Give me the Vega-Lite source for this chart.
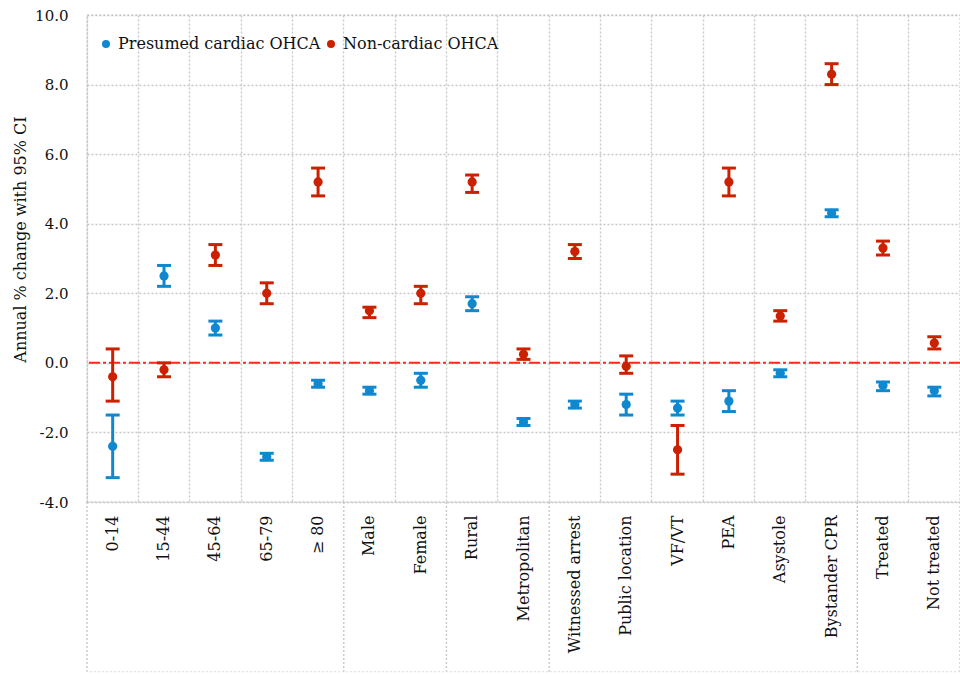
{
  "$schema": "https://vega.github.io/schema/vega-lite/v6.json",
  "autosize": "none",
  "width": 873,
  "height": 487,
  "padding": {"left": 87, "top": 15, "right": 0, "bottom": 172},
  "background": "white",
  "config": {
    "font": "DejaVu Serif",
    "view": {"stroke": "#c8c8c8", "strokeDash": [2, 2], "strokeWidth": 1.4}
  },
  "datasets": {
    "trends": [
      {"series": "Presumed cardiac OHCA", "cat": "0-14", "est": -2.4, "lo": -3.3, "hi": -1.5},
      {"series": "Presumed cardiac OHCA", "cat": "15-44", "est": 2.5, "lo": 2.2, "hi": 2.8},
      {"series": "Presumed cardiac OHCA", "cat": "45-64", "est": 1.0, "lo": 0.8, "hi": 1.2},
      {"series": "Presumed cardiac OHCA", "cat": "65-79", "est": -2.7, "lo": -2.8, "hi": -2.6},
      {"series": "Presumed cardiac OHCA", "cat": "≥ 80", "est": -0.6, "lo": -0.7, "hi": -0.5},
      {"series": "Presumed cardiac OHCA", "cat": "Male", "est": -0.8, "lo": -0.9, "hi": -0.7},
      {"series": "Presumed cardiac OHCA", "cat": "Female", "est": -0.5, "lo": -0.7, "hi": -0.3},
      {"series": "Presumed cardiac OHCA", "cat": "Rural", "est": 1.7, "lo": 1.5, "hi": 1.9},
      {"series": "Presumed cardiac OHCA", "cat": "Metropolitan", "est": -1.7, "lo": -1.8, "hi": -1.6},
      {"series": "Presumed cardiac OHCA", "cat": "Witnessed arrest", "est": -1.2, "lo": -1.3, "hi": -1.1},
      {"series": "Presumed cardiac OHCA", "cat": "Public location", "est": -1.2, "lo": -1.5, "hi": -0.9},
      {"series": "Presumed cardiac OHCA", "cat": "VF/VT", "est": -1.3, "lo": -1.5, "hi": -1.1},
      {"series": "Presumed cardiac OHCA", "cat": "PEA", "est": -1.1, "lo": -1.4, "hi": -0.8},
      {"series": "Presumed cardiac OHCA", "cat": "Asystole", "est": -0.3, "lo": -0.4, "hi": -0.2},
      {"series": "Presumed cardiac OHCA", "cat": "Bystander CPR", "est": 4.3, "lo": 4.2, "hi": 4.4},
      {"series": "Presumed cardiac OHCA", "cat": "Treated", "est": -0.65, "lo": -0.8, "hi": -0.55},
      {"series": "Presumed cardiac OHCA", "cat": "Not treated", "est": -0.8, "lo": -0.95, "hi": -0.7},
      {"series": "Non-cardiac OHCA", "cat": "0-14", "est": -0.4, "lo": -1.1, "hi": 0.4},
      {"series": "Non-cardiac OHCA", "cat": "15-44", "est": -0.2, "lo": -0.4, "hi": 0.0},
      {"series": "Non-cardiac OHCA", "cat": "45-64", "est": 3.1, "lo": 2.8, "hi": 3.4},
      {"series": "Non-cardiac OHCA", "cat": "65-79", "est": 2.0, "lo": 1.7, "hi": 2.3},
      {"series": "Non-cardiac OHCA", "cat": "≥ 80", "est": 5.2, "lo": 4.8, "hi": 5.6},
      {"series": "Non-cardiac OHCA", "cat": "Male", "est": 1.5, "lo": 1.3, "hi": 1.6},
      {"series": "Non-cardiac OHCA", "cat": "Female", "est": 2.0, "lo": 1.7, "hi": 2.2},
      {"series": "Non-cardiac OHCA", "cat": "Rural", "est": 5.2, "lo": 4.9, "hi": 5.4},
      {"series": "Non-cardiac OHCA", "cat": "Metropolitan", "est": 0.25, "lo": 0.1, "hi": 0.4},
      {"series": "Non-cardiac OHCA", "cat": "Witnessed arrest", "est": 3.2, "lo": 3.0, "hi": 3.4},
      {"series": "Non-cardiac OHCA", "cat": "Public location", "est": -0.1, "lo": -0.3, "hi": 0.2},
      {"series": "Non-cardiac OHCA", "cat": "VF/VT", "est": -2.5, "lo": -3.2, "hi": -1.8},
      {"series": "Non-cardiac OHCA", "cat": "PEA", "est": 5.2, "lo": 4.8, "hi": 5.6},
      {"series": "Non-cardiac OHCA", "cat": "Asystole", "est": 1.35, "lo": 1.2, "hi": 1.5},
      {"series": "Non-cardiac OHCA", "cat": "Bystander CPR", "est": 8.3, "lo": 8.0, "hi": 8.6},
      {"series": "Non-cardiac OHCA", "cat": "Treated", "est": 3.3, "lo": 3.1, "hi": 3.5},
      {"series": "Non-cardiac OHCA", "cat": "Not treated", "est": 0.57, "lo": 0.4, "hi": 0.75}
    ],
    "groupStarts": [
      {"cat": "0-14"}, {"cat": "Male"}, {"cat": "Rural"}, {"cat": "Witnessed arrest"}, {"cat": "Treated"}
    ],
    "groupEnds": [
      {"cat": "Not treated"}
    ]
  },
  "layer": [
    {
      "data": {"name": "groupStarts"},
      "mark": {"type": "rule", "color": "#c8c8c8", "strokeDash": [2, 2], "strokeWidth": 1.4},
      "encoding": {
        "x": {
          "field": "cat", "type": "nominal", "bandPosition": 0,
          "scale": {"domain": ["0-14", "15-44", "45-64", "65-79", "≥ 80", "Male", "Female", "Rural", "Metropolitan", "Witnessed arrest", "Public location", "VF/VT", "PEA", "Asystole", "Bystander CPR", "Treated", "Not treated"], "paddingInner": 0, "paddingOuter": 0},
          "axis": {
            "title": null, "labelAngle": -90, "labelFontSize": 16, "labelColor": "#111111",
            "labelPadding": 13, "ticks": false, "domain": false,
            "grid": true, "bandPosition": 0, "gridColor": "#c8c8c8", "gridDash": [2, 2], "gridWidth": 1.4
          }
        },
        "y": {"datum": -4},
        "y2": {"datum": -8.88}
      }
    },
    {
      "data": {"name": "groupEnds"},
      "mark": {"type": "rule", "color": "#c8c8c8", "strokeDash": [2, 2], "strokeWidth": 1.4},
      "encoding": {
        "x": {"field": "cat", "type": "nominal", "bandPosition": 1},
        "y": {"datum": -4},
        "y2": {"datum": -8.88}
      }
    },
    {
      "data": {"values": [{"level": -8.88}]},
      "mark": {"type": "rule", "color": "#dddddd", "strokeDash": [2, 2], "strokeWidth": 1},
      "encoding": {
        "y": {"field": "level", "type": "quantitative"}
      }
    },
    {
      "data": {"values": [{"level": 0}]},
      "mark": {"type": "rule", "color": "#ff2a14", "strokeDash": [11, 3, 3, 3], "strokeWidth": 2},
      "encoding": {
        "y": {"field": "level", "type": "quantitative"}
      }
    },
    {
      "data": {"name": "trends"},
      "mark": {"type": "rule", "strokeWidth": 3, "opacity": 1},
      "encoding": {
        "x": {"field": "cat", "type": "nominal"},
        "y": {"field": "lo", "type": "quantitative"},
        "y2": {"field": "hi"},
        "stroke": {
          "field": "series", "type": "nominal", "legend": null,
          "scale": {"range": ["#cb2100", "#1088cf"]}
        }
      }
    },
    {
      "data": {"name": "trends"},
      "transform": [{"fold": ["lo", "hi"], "as": ["bound", "value"]}],
      "mark": {"type": "tick", "size": 14, "thickness": 3, "orient": "horizontal", "opacity": 1},
      "encoding": {
        "x": {"field": "cat", "type": "nominal"},
        "y": {"field": "value", "type": "quantitative"},
        "fill": {
          "field": "series", "type": "nominal", "legend": null,
          "scale": {"range": ["#cb2100", "#1088cf"]}
        }
      }
    },
    {
      "data": {"name": "trends"},
      "mark": {"type": "point", "filled": true, "opacity": 1, "size": 85, "shape": "circle"},
      "encoding": {
        "x": {"field": "cat", "type": "nominal"},
        "y": {
          "field": "est", "type": "quantitative",
          "scale": {"domain": [-4, 10], "nice": false, "zero": false},
          "axis": {
            "title": "Annual % change with 95% CI", "titleFontSize": 16, "titleFontWeight": "normal",
            "titleColor": "#111111", "titlePadding": 6, "titleY": 224,
            "values": [-4, -2, 0, 2, 4, 6, 8, 10],
            "labelExpr": "replace(format(datum.value, '.1f'), '\u2212', '-')",
            "labelFontSize": 15, "labelColor": "#111111", "labelPadding": 19,
            "ticks": false, "domain": false,
            "grid": true, "gridColor": "#c8c8c8", "gridDash": [2, 2], "gridWidth": 1.4
          }
        },
        "color": {
          "field": "series", "type": "nominal",
          "scale": {"domain": ["Presumed cardiac OHCA", "Non-cardiac OHCA"], "range": ["#1088cf", "#cb2100"]},
          "legend": {
            "title": null, "orient": "none", "direction": "horizontal",
            "legendX": 11, "legendY": 21, "padding": 0,
            "symbolType": "circle", "symbolSize": 65, "symbolStrokeWidth": 0,
            "labelFontSize": 16, "labelColor": "#111111", "labelOffset": 4, "labelLimit": 400,
            "columnPadding": 2
          }
        }
      }
    }
  ]
}
